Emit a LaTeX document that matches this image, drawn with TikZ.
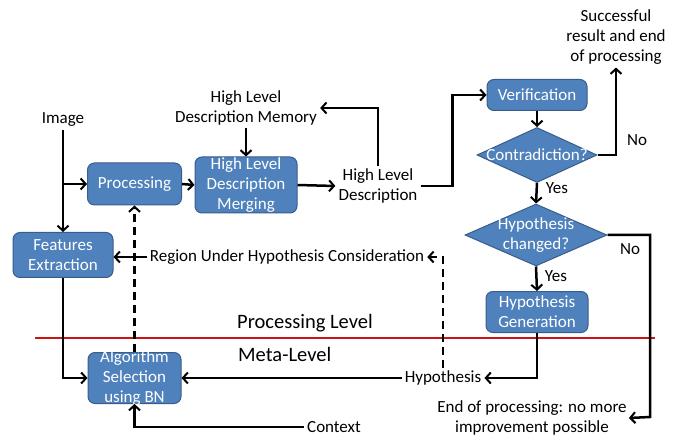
\documentclass[tikz,border=0pt]{standalone}
\usepackage{fontspec}
\setmainfont{Carlito}
\usetikzlibrary{arrows.meta,shapes.geometric}
\definecolor{boxfill}{RGB}{79,129,189}
\definecolor{boxline}{RGB}{56,93,138}
\definecolor{levelred}{RGB}{204,20,20}
\begin{document}
\begin{tikzpicture}[x=1pt,y=-1pt,
  every node/.style={font=\fontsize{17}{20}\selectfont, align=center},
  box/.style={draw=boxline, fill=boxfill, line width=1pt, rounded corners=7pt,
              inner sep=0pt, text=white},
  boxtxt/.style={text=white},
  decision/.style={diamond, draw=boxline, fill=boxfill, line width=1pt,
                   inner sep=0pt, text=white},
  plain/.style={inner sep=3pt},
  levellabel/.style={font=\fontsize{20.5}{24}\selectfont},
  arr/.style={line width=2.5pt, -{Straight Barb[length=5pt,width=11pt,line width=2pt]}},
  dasharr/.style={arr, dash pattern=on 8pt off 5pt}]
\useasboundingbox (0,0) rectangle (677,438);

% processing-level boxes
\node[box, minimum width=94pt, minimum height=42pt] (proc) at (134.5,184) {Processing};
\node[box, minimum width=102pt, minimum height=56pt,
      label={[boxtxt]center:High Level\\Description\\Merging}] (merge) at (246,185) {};
\node[box, minimum width=100pt, minimum height=45pt,
      label={[boxtxt]center:Features\\Extraction}] (feat) at (63,255) {};
\node[box, minimum width=100pt, minimum height=31pt] (verif) at (537,95) {Verification};
\node[decision, minimum width=120pt, minimum height=55pt,
      label={[boxtxt]center:Contradiction?}] (contra) at (537,155) {};
\node[decision, minimum width=142pt, minimum height=62pt,
      label={[boxtxt]center:Hypothesis\\changed?}] (hypch) at (536,235) {};
\node[box, minimum width=102pt, minimum height=41pt,
      label={[boxtxt]center:Hypothesis\\Generation}] (hypgen) at (537,312) {};
% meta-level box
\node[box, minimum width=93pt, minimum height=51pt,
      label={[boxtxt]center:Algorithm\\Selection\\using BN}] (algo) at (134.5,378) {};

% free text
\node[plain] (img) at (63,120) {Image};
\node[plain] (mem) at (246,108) {High Level\\Description Memory};
\node[plain] (hld) at (378,186) {High Level\\Description};
\node[plain] (succ) at (616,37) {Successful\\result and end\\of processing};
\node[plain] (region) at (287,257) {Region Under Hypothesis Consideration};
\node[plain] (hyp) at (443,378) {Hypothesis};
\node[plain] (ctx) at (334,427) {Context};
\node[plain, inner sep=2pt] (endp) at (532,418) {End of processing: no more\\improvement possible};
\node[plain, levellabel] (plevel) at (305,323) {Processing Level};
\node[plain, levellabel, anchor=west, inner sep=0pt] (mlevel) at (238,354) {Meta-Level};
\node[plain, inner sep=0pt] (no1) at (637,140) {No};
\node[plain, inner sep=0pt] (no2) at (630,249) {No};
\node[plain, inner sep=0pt] (yes1) at (557,188) {Yes};
\node[plain, inner sep=0pt] (yes2) at (556,276) {Yes};

% level separator
\coordinate (sepL) at (35,338);
\coordinate (sepR) at (655,338);
\draw[levelred, line width=1.4pt] (sepL) -- (sepR);

% connectors
\draw[arr] (img.south) -- (feat.north);
\draw[arr] (img.south |- proc.west) -- (proc.west);
\draw[arr] (proc.east) -- (merge.west);
\draw[arr] (mem.south) -- (merge.north);
\draw[arr] (merge.east) -- (hld.west);
\draw[arr] (hld.north) |- (mem.east);
\draw[arr] (hld.east) -- ++(32,0) |- (verif.west);
\draw[arr] (verif.south) -- (contra.north);
\draw[arr] (contra.east) -| (succ.south);
\draw[arr] (contra.south) -- (hypch.north);
\draw[arr] (hypch.south) -- (hypgen.north);
\coordinate (rdrop) at (650,417);
\draw[arr] (hypch.east) -| (rdrop) -- (endp.east);
\draw[arr] (hypgen.south) |- (hyp.east);
\draw[arr] (hyp.west) -- (algo.east);
\draw[arr] (feat.south) |- (algo.west);
\draw[arr] (ctx.west) -| (algo.south);
\draw[dasharr] (algo.north) -- (proc.south);
\draw[dasharr] (hyp.north) |- (region.east);
\draw[arr] (region.west) -- (region.west -| feat.east);
\end{tikzpicture}
\end{document}
